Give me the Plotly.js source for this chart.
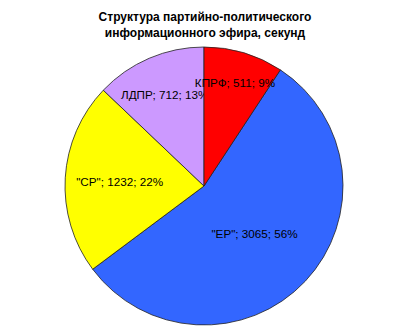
<!DOCTYPE html>
<html>
<head>
<meta charset="utf-8">
<script src="https://cdn.plot.ly/plotly-3.0.1.min.js"></script>
<style>html,body{margin:0;padding:0;background:#fff;}#chart{width:400px;height:334px;}</style>
</head>
<body>
<div id="chart"></div>
<script>
// clockwise order after КПРФ, so the small КПРФ slice (and its label) is drawn last and stays on top
const parties = ['"ЕР"', '"СР"', 'ЛДПР', 'КПРФ'];
const seconds = [3065, 1232, 712, 511];
const colors = ['#3366FF', '#FFFF00', '#CC99FF', '#FF0000'];
const chartTitle = 'Структура партийно-политического<br>информационного эфира, секунд';

// rotate so that КПРФ starts at 12 o'clock, as in the original
const total = seconds.reduce((a, b) => a + b, 0);
const startAngle = 360 * seconds[seconds.length - 1] / total;

const trace = {
  type: 'pie',
  labels: parties,
  values: seconds,
  sort: false,
  direction: 'clockwise',
  rotation: startAngle,
  marker: {colors: colors, line: {color: '#222', width: 0.8}},
  texttemplate: '%{label}; %{value}; %{percent:.0%}',
  textposition: 'inside',
  insidetextorientation: 'horizontal',
  insidetextfont: {family: 'Liberation Sans, Arial, sans-serif', size: 11.7, color: '#000'},
  hoverinfo: 'none',
  showlegend: false
};

const layout = {
  width: 400, height: 334,
  margin: {l: 8, r: 0, t: 47, b: 9},
  paper_bgcolor: '#fff',
  uniformtext: {mode: 'show', minsize: 11.7},
  title: {
    text: '<b>' + chartTitle + '</b>',
    font: {family: 'Liberation Sans, Arial, sans-serif', size: 12, color: '#000'},
    x: 0.5125, xanchor: 'center', y: 0.936, yanchor: 'top', yref: 'container'
  }
};

Plotly.newPlot('chart', [trace], layout, {displayModeBar: false, staticPlot: true});
</script>
</body>
</html>
